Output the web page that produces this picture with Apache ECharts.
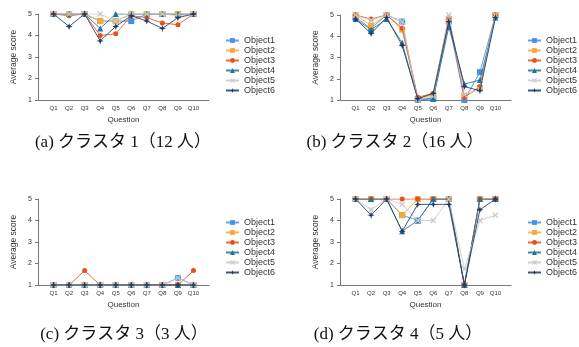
<!DOCTYPE html>
<html><head><meta charset="utf-8">
<script src="https://cdn.jsdelivr.net/npm/echarts@6/dist/echarts.min.js"></script>
<style>html,body{margin:0;padding:0;background:#fff}#c{width:579px;height:347px}</style>
</head><body><div id="c"></div>
<script>
const categories = ['Q1','Q2','Q3','Q4','Q5','Q6','Q7','Q8','Q9','Q10'];
const objectNames = ['Object1','Object2','Object3','Object4','Object5','Object6'];
const yTicks = [1,2,3,4,5];
const captions = ['(a) クラスタ 1（12 人）','(b) クラスタ 2（16 人）','(c) クラスタ 3（3 人）','(d) クラスタ 4（5 人）'];

// Cluster 1
const c1_Object1 = [5,5,5,4.67,4.67,4.67,5,5,5,5];
const c1_Object2 = [5,5,5,4.67,4.67,5,5,5,5,5];
const c1_Object3 = [5,4.92,5,4.0,4.08,4.92,4.83,4.58,4.5,5];
const c1_Object4 = [5,5,5,4.33,5,5,5,5,5,5];
const c1_Object5 = [5,5,5,5,4.67,5,5,5,4.92,5];
const c1_Object6 = [5,4.42,5,3.75,4.42,4.92,4.67,4.33,4.83,5];
// Cluster 2
const c2_Object1 = [4.88,4.38,5,4.69,1.0,1.06,4.69,1.0,2.31,5];
const c2_Object2 = [5,4.5,5,4.31,1.06,1.25,4.81,1.19,1.56,5];
const c2_Object3 = [5,4.81,5,4.38,1.13,1.31,4.88,1.13,1.63,5];
const c2_Object4 = [4.81,4.31,4.81,3.69,1.06,1.06,4.44,1.75,1.94,4.88];
const c2_Object5 = [5,4.75,5,4.69,1.0,1.19,5,1.25,1.5,5];
const c2_Object6 = [4.81,4.13,4.88,3.56,1.06,1.31,4.69,1.63,1.44,4.88];
// Cluster 3
const c3_Object1 = [1,1,1,1,1,1,1,1,1.33,1];
const c3_Object2 = [1,1,1,1,1,1,1,1,1,1];
const c3_Object3 = [1,1,1.67,1,1,1,1,1,1,1.67];
const c3_Object4 = [1,1,1,1,1,1,1,1,1,1];
const c3_Object5 = [1,1,1,1,1,1,1,1,1.33,1];
const c3_Object6 = [1,1,1,1,1,1,1,1,1,1];
// Cluster 4
const c4_Object1 = [5,5,5,4.25,4,5,5,1,5,5];
const c4_Object2 = [5,5,5,4.25,5,5,5,1,5,5];
const c4_Object3 = [5,5,5,5,5,5,5,1,5,5];
const c4_Object4 = [5,5,5,3.5,4,5,5,1,5,5];
const c4_Object5 = [5,4.5,5,4.75,4,4,5,1.75,4,4.25];
const c4_Object6 = [5,4.25,5,3.5,4.75,4.75,4.75,1,4.5,5];

const clusters = [
  [c1_Object1,c1_Object2,c1_Object3,c1_Object4,c1_Object5,c1_Object6],
  [c2_Object1,c2_Object2,c2_Object3,c2_Object4,c2_Object5,c2_Object6],
  [c3_Object1,c3_Object2,c3_Object3,c3_Object4,c3_Object5,c3_Object6],
  [c4_Object1,c4_Object2,c4_Object3,c4_Object4,c4_Object5,c4_Object6]
];

const colors = ['#4a90e2','#f5a93a','#e4501f','#21739d','#c9c9c9','#1f3b66'];
const xPath = 'path://M0,1.5L1.5,0L5,3.5L8.5,0L10,1.5L6.5,5L10,8.5L8.5,10L5,6.5L1.5,10L0,8.5L3.5,5Z';
const starPath = 'path://M5,0L6.3,3.7L10,5L6.3,6.3L5,10L3.7,6.3L0,5L3.7,3.7Z';
const symbols = ['rect','rect','circle','triangle',xPath,starPath];
const symSizes = [6,6,5,6,6,7];

const grids = [
  {left:38, top:14, width:171, height:86},
  {left:340, top:15, width:171, height:85},
  {left:38, top:199, width:171, height:86},
  {left:340, top:199, width:171, height:86}
];
const legendPos = [{left:225, top:36},{left:527, top:36},{left:225, top:218},{left:527, top:218}];
const capPos = [[123,143],[395,143],[124,335],[398,335]];

const sans = 'Liberation Sans, Arial, sans-serif';
const option = {
  animation:false,
  backgroundColor:'#fff',
  grid: grids.map(g=>Object.assign({containLabel:false}, g)),
  xAxis: grids.map((g,i)=>({
    gridIndex:i, type:'value', min:0, max:11, interval:1,
    name:'Question', nameLocation:'middle', nameGap:16,
    nameTextStyle:{fontSize:8, color:'#333', fontFamily:sans},
    axisLine:{lineStyle:{color:'#777', width:1}},
    axisTick:{show:false},
    splitLine:{show:false},
    axisLabel:{fontSize:6, color:'#333', margin:5, fontFamily:sans,
      formatter:v=>categories[v-1]||''}
  })),
  yAxis: grids.map((g,i)=>({
    gridIndex:i, type:'value', min:1, max:5, interval:1,
    name:'Average score', nameLocation:'middle', nameGap:20,
    nameTextStyle:{fontSize:8.5, color:'#333', fontFamily:sans},
    axisLine:{show:true, lineStyle:{color:'#777', width:1}},
    axisTick:{show:true, length:3, lineStyle:{color:'#777'}},
    splitLine:{show:false},
    axisLabel:{fontSize:7, color:'#333', margin:6, fontFamily:sans,
      formatter:v=>yTicks.includes(v)?String(v):''}
  })),
  legend: legendPos.map(p=>({
    orient:'vertical', left:p.left, top:p.top, padding:0,
    itemWidth:13, itemHeight:6, itemGap:1,
    textStyle:{fontSize:9, color:'#333', fontFamily:sans, lineHeight:9},
    data:objectNames
  })),
  series: [],
  graphic: captions.map((t,i)=>({
    type:'text', x:capPos[i][0], y:capPos[i][1],
    style:{text:t, font:'17px "Liberation Serif", "Noto Sans CJK JP", serif', fill:'#111',
      textAlign:'center', textVerticalAlign:'middle'}
  }))
};
clusters.forEach((cl,ci)=>{
  cl.forEach((vals,oi)=>{
    option.series.push({
      name:objectNames[oi], type:'line', xAxisIndex:ci, yAxisIndex:ci,
      data: vals.map((v,k)=>[k+1,v]),
      symbol:symbols[oi], symbolSize:symSizes[oi], showSymbol:true,
      itemStyle:{color:colors[oi]},
      lineStyle:{color:colors[oi], width:1, opacity:0.85},
      z:2+oi
    });
  });
});
const chart = echarts.init(document.getElementById('c'), null, {renderer:'canvas'});
chart.setOption(option);
</script></body></html>
